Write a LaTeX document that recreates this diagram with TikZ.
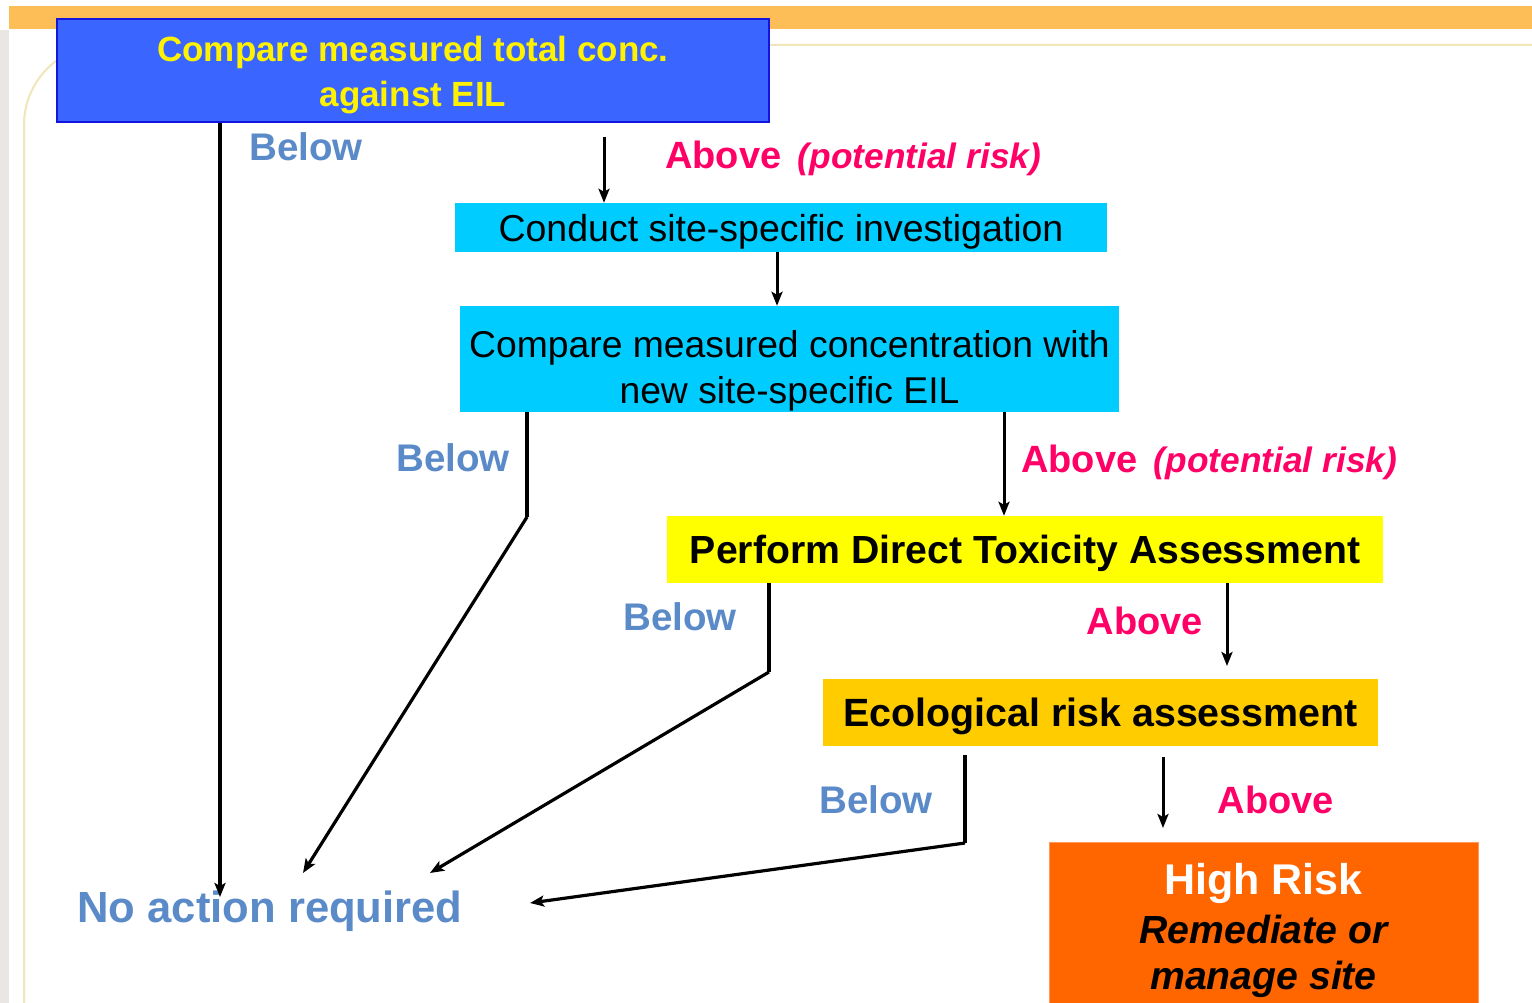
\documentclass[tikz,border=0pt]{standalone}
\usepackage{fontspec}
\setmainfont{Liberation Sans}
\usetikzlibrary{arrows.meta}

\definecolor{barorange}{HTML}{FDBD57}
\definecolor{framecol}{HTML}{F0E6B8}
\definecolor{sidegray}{HTML}{E9E7E3}
\definecolor{boxblue}{HTML}{3A66FF}
\definecolor{edgeblue}{HTML}{1414E0}
\definecolor{boxcyan}{HTML}{00CCFF}
\definecolor{boxyellow}{HTML}{FFFF00}
\definecolor{boxgold}{HTML}{FFCC00}
\definecolor{boxorange}{HTML}{FF6600}
\definecolor{edgeorange}{HTML}{FF9A5C}
\definecolor{abovered}{HTML}{FF0066}
\definecolor{belowblue}{HTML}{5A8AC8}

\tikzset{
  stepbox/.style={draw=none, inner sep=0pt, align=center, text depth=0pt},
  belowlbl/.style={text=belowblue, font=\fontsize{38.5}{44}\selectfont\bfseries, inner sep=0pt},
  abovelbl/.style={text=abovered, font=\fontsize{38}{44}\selectfont\bfseries, inner sep=0pt},
  tip/.style={-{Stealth[length=14pt,width=11pt,inset=3pt]}},
  arr/.style={tip, line width=3pt},
  stem/.style={line width=4.5pt},
  slant/.style={tip, line width=3.2pt},
}
\newcommand{\risknote}{\ \hspace{6pt}{\fontsize{35.3}{40}\selectfont\itshape (potential risk)}}

\begin{document}
\begin{tikzpicture}[x=1pt,y=-1pt]
  \useasboundingbox (0,0) rectangle (1532,1003);
  % slide decoration
  \fill[white] (0,0) rectangle (1532,1003);
  \fill[sidegray] (0,30) rectangle (9,1003);
  \fill[barorange] (9,6) rectangle (1532,29);
  \draw[framecol, line width=2pt, rounded corners=80pt] (24,1010) -- (24,45) -- (1545,45);

  % process boxes
  \node[stepbox, fill=boxblue, draw=edgeblue, line width=2pt, minimum width=712, minimum height=103,
        text=yellow, font=\fontsize{35}{45}\selectfont\bfseries] (eil) at (413,70.5)
        {\rule{0pt}{28pt}Compare measured total conc.\\against EIL};
  \node[stepbox, fill=boxcyan, minimum width=652, minimum height=49,
        font=\fontsize{37.5}{44}\selectfont] (inv) at (781,227.5)
        {Conduct site-specific investigation};
  \node[stepbox, fill=boxcyan, minimum width=659, minimum height=106,
        font=\fontsize{37.3}{46}\selectfont] (site) at (789.5,359)
        {\rule{0pt}{43pt}Compare measured concentration with\\new site-specific EIL};
  \node[stepbox, fill=boxyellow, minimum width=716, minimum height=67,
        font=\fontsize{39.2}{44}\selectfont\bfseries] (dta) at (1025,549.5)
        {Perform Direct Toxicity Assessment};
  \node[stepbox, fill=boxgold, minimum width=555, minimum height=67,
        font=\fontsize{39.4}{44}\selectfont\bfseries] (era) at (1100.5,712.5)
        {Ecological risk assessment};
  \node[stepbox, fill=boxorange, draw=edgeorange, line width=1pt, minimum width=429, minimum height=168,
        font=\fontsize{39.2}{46}\selectfont\bfseries] (risk) at (1263.5,926)
        {{\color{white}\fontsize{43}{46}\selectfont High Risk}\\[3pt]\itshape Remediate or\\\itshape manage site};
  \node[text=belowblue, font=\fontsize{43.6}{50}\selectfont\bfseries, inner sep=0pt, text depth=0pt] (none) at (270,907)
        {No action required};

  % bend points and arrow tips
  \coordinate (k1) at (604,137);
  \coordinate (k3) at (527,517);
  \coordinate (t3) at (303,873);
  \coordinate (k4) at (769,672);
  \coordinate (t4) at (430,873);
  \coordinate (s5) at (965,755);
  \coordinate (k5) at (965,843);
  \coordinate (t5) at (530,903);
  \coordinate (s5a) at (1163,757);
  \coordinate (t5a) at (1163,828);
  \coordinate (t4a) at (1227,666);
  \coordinate (t0) at (220,897);

  % connectors
  \draw[tip, line width=4pt] (eil.south -| t0) -- (t0);
  \draw[arr] (k1) -- (k1 |- inv.north);
  \draw[arr] (inv.south -| 777,0) -- (site.north -| 777,0);
  \draw[stem] (site.south -| k3) -- (k3);
  \draw[slant] (k3) -- (t3);
  \draw[arr] (site.south -| 1004,0) -- (dta.north -| 1004,0);
  \draw[stem] (dta.south -| k4) -- (k4);
  \draw[slant] (k4) -- (t4);
  \draw[arr] (dta.south -| t4a) -- (t4a);
  \draw[stem, line width=4pt] (s5) -- (k5);
  \draw[slant] (k5) -- (t5);
  \draw[arr] (s5a) -- (t5a);

  % branch labels
  \node[belowlbl] (lb1) at (306,147) {Below};
  \node[abovelbl, anchor=west] (la1) at (665,158) {Above\risknote};
  \node[belowlbl] (lb2) at (453,458) {Below};
  \node[abovelbl, anchor=west] (la2) at (1021,462) {Above\risknote};
  \node[belowlbl] (lb3) at (680,617) {Below};
  \node[abovelbl] (la3) at (1145,621) {Above};
  \node[belowlbl] (lb4) at (876,800) {Below};
  \node[abovelbl] (la4) at (1276,800) {Above};
\end{tikzpicture}
\end{document}
